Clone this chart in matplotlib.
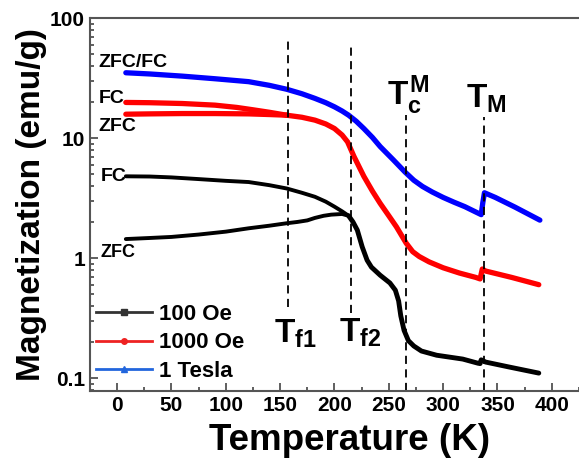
import numpy as np
import matplotlib
matplotlib.use("Agg")
import matplotlib.pyplot as plt
from matplotlib.lines import Line2D
from matplotlib.ticker import MultipleLocator, LogLocator, FixedFormatter, FixedLocator

plt.rcParams['font.family'] = ['Liberation Sans', 'DejaVu Sans']
plt.rcParams['font.weight'] = 'bold'
plt.rcParams['mathtext.fontset'] = 'custom'
plt.rcParams['mathtext.rm'] = 'Liberation Sans:bold'
plt.rcParams['mathtext.it'] = 'Liberation Sans:bold'
plt.rcParams['mathtext.bf'] = 'Liberation Sans:bold'

# 100 Oe (black)
T_100_fc = [8, 30, 50, 75, 100, 121, 140, 156, 170, 182, 192, 200, 207, 213]
M_100_fc = [4.8, 4.78, 4.7, 4.55, 4.4, 4.3, 4.05, 3.8, 3.5, 3.24, 2.95, 2.68, 2.45, 2.25]
T_100_zfc = [8, 30, 50, 75, 100, 121, 140, 156, 166, 175, 182, 190, 197, 207, 213]
M_100_zfc = [1.44, 1.47, 1.5, 1.57, 1.66, 1.77, 1.86, 1.95, 2.0, 2.06, 2.16, 2.25, 2.3, 2.33, 2.25]
T_100 = [213, 217, 221, 225.5, 230, 234, 242, 251, 256, 259, 261, 264, 268, 273, 280, 294, 318,
         332, 334, 335, 339, 360, 388]
M_100 = [2.25, 2.0, 1.71, 1.24, 0.96, 0.84, 0.72, 0.62, 0.54, 0.44, 0.33, 0.25, 0.205, 0.185,
         0.168, 0.155, 0.144, 0.133, 0.132, 0.142, 0.136, 0.124, 0.11]

# 1000 Oe (red)
T_1000_fc = [8, 30, 60, 90, 110, 125, 140, 156]
M_1000_fc = [19.8, 19.7, 19.4, 18.8, 18.0, 17.2, 16.4, 15.5]
T_1000_zfc = [8, 30, 60, 90, 121, 140, 156]
M_1000_zfc = [15.8, 15.9, 16.0, 16.0, 15.9, 15.7, 15.5]
T_1000 = [156, 170, 182, 192, 200, 207, 212, 218, 227, 235, 242, 250, 257, 266, 272, 278, 287,
          300, 315, 330, 334, 336, 339, 363, 388]
M_1000 = [15.5, 14.9, 14.1, 13.1, 12.0, 10.6, 9.3, 7.0, 4.8, 3.6, 2.86, 2.25, 1.82, 1.33, 1.13,
          1.03, 0.93, 0.83, 0.75, 0.69, 0.67, 0.81, 0.78, 0.69, 0.6]

# 1 Tesla (blue), ZFC and FC coincide
T_1T = [8, 30, 60, 90, 121, 140, 156, 170, 182, 192, 200, 207, 213, 220, 227, 235, 242, 254, 265,
        273, 281, 290, 300, 310, 320, 330, 335, 336.5, 338, 348, 366, 389]
M_1T = [35, 34.2, 32.8, 31.2, 29.5, 27.5, 25.5, 23.4, 21.4, 19.7, 18.2, 16.8, 15.5, 13.8, 12.0, 10.1,
        8.5, 6.6, 5.2, 4.45, 3.95, 3.55, 3.2, 2.92, 2.68, 2.42, 2.3, 2.9, 3.5, 3.2, 2.66, 2.07]

# transition markers: position, top, bottom
T_marks = [157, 215, 266, 338]
mark_top = [65.6, 58.4, 15.5, 15]
mark_bot = [0.39, 0.35, 0.078, 0.078]

fig = plt.figure(figsize=(5.79, 4.59), dpi=100)
ax = fig.add_axes([0.1554, 0.1481, 0.8446, 0.8126])

ax.plot(T_1T, M_1T, color='#0000ff', lw=3.8, solid_capstyle='round', solid_joinstyle='round')
ax.plot(T_1000_fc, M_1000_fc, color='#ff0000', lw=3.8, solid_capstyle='round')
ax.plot(T_1000_zfc, M_1000_zfc, color='#ff0000', lw=3.8, solid_capstyle='round')
ax.plot(T_1000, M_1000, color='#ff0000', lw=3.8, solid_capstyle='round', solid_joinstyle='round')
ax.plot(T_100_fc, M_100_fc, color='black', lw=2.8, solid_capstyle='round')
ax.plot(T_100_zfc, M_100_zfc, color='black', lw=2.8, solid_capstyle='round')
ax.plot(T_100, M_100, color='black', lw=3.5, solid_capstyle='round', solid_joinstyle='round')

for t, top, bot in zip(T_marks, mark_top, mark_bot):
    ax.plot([t, t], [bot, top], color='black', lw=1.3, linestyle=(0, (4.5, 3)))

ax.set_yscale('log')
ax.set_xlim(-25, 425)
ax.set_ylim(0.078, 100)

ax.xaxis.set_major_locator(MultipleLocator(50))
ax.xaxis.set_minor_locator(MultipleLocator(25))
ax.yaxis.set_major_locator(FixedLocator([0.1, 1, 10, 100]))
ax.yaxis.set_major_formatter(FixedFormatter(['0.1', '1', '10', '100']))
ax.yaxis.set_minor_locator(LogLocator(base=10, subs=np.arange(2, 10)))
ax.tick_params(which='both', direction='in', colors='#444444', labelcolor='black', width=1.2)
ax.tick_params(which='major', length=6, labelsize=15)
ax.tick_params(which='minor', length=3)
ax.tick_params(axis='y', which='minor', labelleft=False)
ax.set_xticks([0, 50, 100, 150, 200, 250, 300, 350, 400])
for lab in ax.get_xticklabels() + ax.get_yticklabels():
    lab.set_fontweight('bold')

for side in ['left', 'bottom', 'top']:
    ax.spines[side].set_color('#555555')
    ax.spines[side].set_linewidth(1.5)
ax.spines['right'].set_visible(False)

ax.set_xlabel('Temperature (K)', fontsize=26.5, fontweight='bold')
ax.xaxis.set_label_coords(0.53, -0.085)
ax.set_ylabel('Magnetization (emu/g)', fontsize=24, fontweight='bold', labelpad=2)

ax.text(-17, 43, 'ZFC/FC', fontsize=14, fontweight='bold', va='center')
ax.text(-17, 21.5, 'FC', fontsize=14, fontweight='bold', va='center')
ax.text(-17, 12.4, 'ZFC', fontsize=14, fontweight='bold', va='center')
ax.text(-15, 4.8, 'FC', fontsize=14, fontweight='bold', va='center')
ax.text(-15, 1.12, 'ZFC', fontsize=13, fontweight='bold', va='center')

ax.text(144.5, 0.196, r'$T_{f1}$', fontsize=24, va='baseline')
ax.text(204.5, 0.2, r'$T_{f2}$', fontsize=24, va='baseline')
ax.text(248, 18.8, r'$T_c^M$', fontsize=24, va='baseline')
ax.text(321, 18.1, r'$T_M$', fontsize=24, va='baseline')

handles = [
    Line2D([], [], color='#333333', lw=2, marker='s', markersize=4),
    Line2D([], [], color='#ee2222', lw=2, marker='o', markersize=4),
    Line2D([], [], color='#2266dd', lw=2, marker='^', markersize=4),
]
ax.legend(handles, ['100 Oe', '1000 Oe', '1 Tesla'], loc='lower left', frameon=False,
          prop={'size': 16, 'weight': 'bold'}, handlelength=2.5, handletextpad=0.3,
          labelspacing=0.35, borderaxespad=0.0, bbox_to_anchor=(-0.005, 0.0))

fig.savefig('out.png', dpi=100)
